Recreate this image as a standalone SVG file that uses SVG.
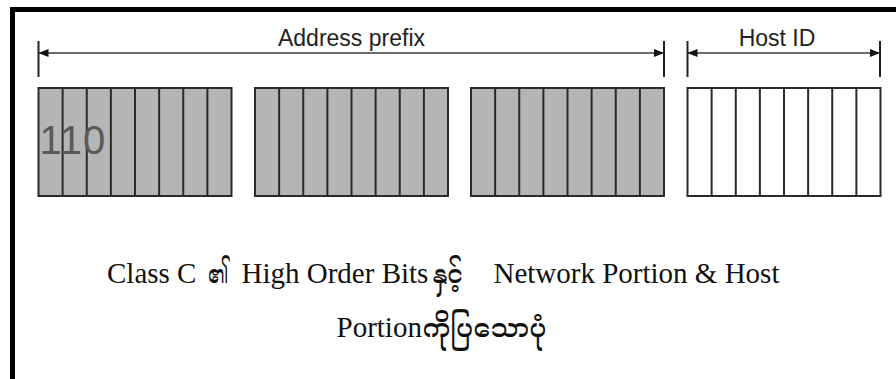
<svg xmlns="http://www.w3.org/2000/svg" xmlns:xlink="http://www.w3.org/1999/xlink" width="896" height="379" viewBox="0 0 896 379">
  <style>
    .frame { fill: none; stroke: #000; stroke-width: 5; }
    .octet-net { fill: #b5b5b5; stroke: #2a2a2a; stroke-width: 2; }
    .octet-host { fill: #fff; stroke: #2a2a2a; stroke-width: 2; }
    .divider { stroke: #2a2a2a; stroke-width: 2; }
    .dim { stroke: #3a3a3a; stroke-width: 1.5; fill: none; }
    .tick { stroke: #222; stroke-width: 2; }
    .label { font-family: "Liberation Sans", Arial, sans-serif; font-size: 23px; fill: #222; }
    .bits { font-family: "Liberation Sans", Arial, sans-serif; font-size: 40px; fill: #5a5a5a; letter-spacing: 1px; }
    .caption { font-family: "Liberation Serif", "Noto Serif Myanmar", "Noto Sans Myanmar", "Padauk", "Myanmar Text", serif; font-size: 29px; fill: #111; }
    .mm { font-size: 25px; }
  </style>
  <defs>
    <marker id="head" viewBox="0 0 10 8" refX="10" refY="4" markerWidth="10" markerHeight="8" markerUnits="userSpaceOnUse" orient="auto-start-reverse">
      <path d="M0,0 L10,4 L0,8 Z" fill="#111"/>
    </marker>
    <!-- seven bit separators of one 8-bit octet -->
    <g id="dividers" class="divider">
      <line x1="24.125" y1="0" x2="24.125" y2="108"/>
      <line x1="48.25" y1="0" x2="48.25" y2="108"/>
      <line x1="72.375" y1="0" x2="72.375" y2="108"/>
      <line x1="96.5" y1="0" x2="96.5" y2="108"/>
      <line x1="120.625" y1="0" x2="120.625" y2="108"/>
      <line x1="144.75" y1="0" x2="144.75" y2="108"/>
      <line x1="168.875" y1="0" x2="168.875" y2="108"/>
    </g>
  </defs>

  <rect width="896" height="379" fill="#fff"/>

  <!-- outer frame: top and left edges only -->
  <path class="frame" d="M12.5,379 V9.5 H896"/>

  <!-- octets -->
  <g id="octet1" transform="translate(38.5,88)">
    <rect class="octet-net" width="193" height="108"/>
    <use xlink:href="#dividers"/>
    <text class="bits" x="1" y="66">110</text>
  </g>
  <g id="octet2" transform="translate(255,88)">
    <rect class="octet-net" width="193" height="108"/>
    <use xlink:href="#dividers"/>
  </g>
  <g id="octet3" transform="translate(471,88)">
    <rect class="octet-net" width="193" height="108"/>
    <use xlink:href="#dividers"/>
  </g>
  <g id="octet4" transform="translate(687.5,88)">
    <rect class="octet-host" width="193" height="108"/>
    <use xlink:href="#dividers"/>
  </g>

  <!-- dimension arrows -->
  <g id="connectors">
    <line class="tick" x1="38.5" y1="41" x2="38.5" y2="77"/>
    <line class="tick" x1="664" y1="41" x2="664" y2="77"/>
    <line class="dim" x1="38.5" y1="53" x2="664" y2="53" marker-start="url(#head)" marker-end="url(#head)"/>
    <line class="tick" x1="687.5" y1="41" x2="687.5" y2="77"/>
    <line class="tick" x1="880" y1="41" x2="880" y2="77"/>
    <line class="dim" x1="687.5" y1="53" x2="880" y2="53" marker-start="url(#head)" marker-end="url(#head)"/>
  </g>

  <g id="labels">
    <text class="label" x="351.5" y="46" text-anchor="middle">Address prefix</text>
    <text class="label" x="777" y="46" text-anchor="middle">Host ID</text>
  </g>

  <!-- caption -->
  <g id="caption" class="caption">
    <text x="107" y="283">Class C</text>
    <text class="mm" x="208" y="283" textLength="20" lengthAdjust="spacingAndGlyphs">၏</text>
    <text x="241.5" y="283">High Order Bits</text>
    <text class="mm" x="433" y="283" textLength="30" lengthAdjust="spacingAndGlyphs">နှင့်</text>
    <text x="493.5" y="283">Network Portion &amp; Host</text>
    <text x="336.5" y="337">Portion</text>
    <text class="mm" x="422.5" y="337" textLength="124" lengthAdjust="spacingAndGlyphs">ကိုပြသောပုံ</text>
  </g>
</svg>
